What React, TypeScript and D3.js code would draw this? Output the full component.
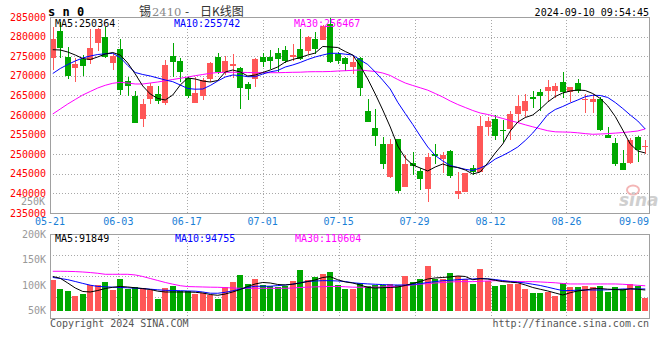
import * as d3 from 'd3'

// daily K data, sn0 (tin) 05-21 .. 09-10
const opens = [
  274630, 281430, 274800, 272080, 274290, 274030, 278450, 279900, 273350, 276750,
  268670, 264850, 258980, 264000, 265360, 263150, 275140, 273780, 269350, 263060,
  264760, 269180, 274800, 271060, 272590, 271910, 267910, 269180, 274800, 274800,
  275820, 276580, 274800, 276840, 276410, 279390, 279220, 283200, 275650, 274460,
  272330, 274460, 261110, 256680, 252690, 244270, 253880, 241720, 247760, 245720,
  241120, 250050, 248690, 250820, 239850, 240450, 246400, 245550, 257030, 258980,
  256170, 256430, 260260, 261020, 264680, 265780, 266120, 266210, 268330, 265780,
  268160, 263830, 263320, 264170, 254900, 252770, 247760, 247840, 254300, 251840,
]
const highs = [
  282450, 283640, 277350, 274630, 275310, 281940, 282110, 282450, 275650, 279300,
  269690, 266120, 264080, 268250, 267480, 273950, 278450, 274630, 269780, 269780,
  269350, 273610, 275900, 275050, 275560, 272330, 268500, 274460, 275820, 276670,
  277010, 277520, 278030, 281940, 280240, 281260, 282960, 284700, 276160, 274880,
  274970, 274800, 264080, 261530, 254470, 253880, 253880, 249800, 250480, 246570,
  250220, 252520, 250480, 251070, 245550, 245210, 247250, 259830, 259580, 260000,
  258730, 261020, 265020, 265360, 266120, 266630, 268840, 268250, 270880, 267140,
  269100, 265440, 265270, 264510, 256850, 254050, 251070, 254220, 254650, 253620,
]
const lows = [
  271480, 274630, 269100, 268500, 269950, 273100, 276330, 274460, 271390, 265100,
  264760, 258050, 257030, 262720, 262720, 262550, 269780, 268500, 264420, 263060,
  263740, 268500, 270540, 270200, 269350, 261450, 263910, 267230, 272250, 271740,
  270880, 273180, 273780, 274120, 275650, 275560, 279050, 273270, 272930, 271230,
  270540, 264850, 258300, 252180, 246230, 244010, 240190, 241720, 244700, 240950,
  237720, 247420, 245120, 244010, 238570, 240450, 244700, 245550, 254730, 253620,
  253200, 253620, 257880, 259580, 261700, 261020, 263570, 264250, 264250, 263230,
  265530, 260600, 260600, 255920, 254220, 247080, 245890, 247500, 248100, 249970,
]
const closes = [
  279390, 277180, 269950, 272930, 272590, 277180, 281940, 274880, 274970, 266460,
  267480, 258050, 262890, 267480, 263660, 272760, 273610, 271060, 264760, 265610,
  268840, 273270, 271060, 273780, 273100, 266970, 266720, 274290, 273610, 273780,
  274370, 273860, 275310, 274290, 279810, 276840, 282790, 273610, 273860, 273100,
  273610, 266800, 258300, 254730, 247420, 252600, 240700, 247500, 247080, 243670,
  249200, 249540, 249800, 244440, 240610, 245210, 245380, 257200, 258470, 254730,
  256000, 260260, 262380, 263570, 264000, 264930, 267140, 267400, 265950, 267140,
  266210, 264000, 264000, 256170, 254220, 247500, 246060, 253620, 251160, 252180,
]
const volumes = [
  110.7, 92.5, 89.1, 78.8, 82.7, 100.3, 99.7, 106.2, 91.1, 112,
  92.5, 95.8, 94.4, 91.1, 73.5, 94.4, 98.9, 89.1, 89.1, 82.7,
  84.6, 81.3, 73.5, 95.8, 106.2, 120.5, 102.3, 112.6, 100.9, 97.7,
  95.8, 98.9, 108.7, 129.6, 109.5, 115.9, 121.8, 126.3, 99.7, 92.5,
  92.5, 103.6, 98.3, 100.3, 100.3, 102.3, 99.7, 117.9, 106.8, 112,
  137.5, 112, 111.4, 124.4, 118.5, 111.4, 102.3, 131.6, 108.1, 98.3,
  100.3, 102.3, 102.3, 92.5, 85.2, 85.2, 86.6, 78.8, 103.6, 97,
  97, 98.3, 97, 98.3, 87.2, 95.8, 92.5, 102.3, 98.3, 75.4,
].map(v => v * 1000)

// moving averages as printed on the chart
const ma5 = [
  276660, 276580, 276070, 275300, 274410, 274160, 274800, 275560, 275940, 275300,
  273270, 270460, 267400, 265360, 264210, 263830, 265100, 267650, 269440, 269180,
  268670, 268420, 268800, 270970, 271480, 270970, 269950, 270200, 270840, 271480,
  272250, 273520, 274160, 274670, 275300, 275810, 277480, 277350, 277220, 276200,
  275300, 272500, 269180, 265360, 261280, 256940, 252090, 249030, 247250, 246480,
  245720, 246740, 247500, 246860, 246610, 245970, 244950, 245460, 247760, 250310,
  252600, 255920, 258210, 259360, 260000, 261530, 263320, 264720, 265610, 266120,
  266380, 266250, 265480, 264210, 262300, 259620, 256170, 252600, 250820, 250310,
]
const ma10 = [
  270590, 271860, 272880, 273780, 274540, 275050, 275430, 275610, 275740, 274670,
  272630, 270840, 270330, 269950, 269440, 268930, 268500, 267650, 266760, 266580,
  266630, 267530, 268670, 269690, 270200, 270080, 269770, 269770, 270460, 271020,
  271350, 272240, 272760, 273400, 274160, 274800, 275300, 275740, 275740, 275510,
  275300, 274030, 272880, 270970, 268880, 266630, 263240, 260380, 257580, 254640,
  251840, 249670, 248270, 247120, 246610, 246150, 245840, 246480, 247370, 248770,
  249670, 250690, 251840, 253500, 255410, 257700, 260130, 261400, 262170, 263060,
  263830, 264670, 265030, 264980, 264470, 263190, 261660, 260000, 258470, 256430,
]
const ma30 = [
  260260, 261530, 262810, 263960, 265100, 266000, 266890, 267580, 268090, 268340,
  268160, 267910, 267910, 268160, 268420, 268720, 269060, 269360, 269690, 270030,
  270330, 270640, 270840, 270890, 270890, 270890, 270840, 270790, 270790, 270790,
  270790, 270840, 270890, 270920, 271020, 271050, 271050, 271100, 271220, 271300,
  271400, 271480, 271280, 271100, 270710, 270080, 269060, 268160, 267530, 266940,
  266330, 265480, 264590, 263570, 262680, 261910, 261150, 260510, 260130, 259640,
  259110, 258570, 258060, 257500, 256990, 256480, 255990, 255710, 255660, 255610,
  255460, 255250, 255080, 255150, 255250, 255380, 255530, 255710, 255920, 256450,
]
const vma5 = [
  116.9, 113.4, 104.2, 94.4, 87.6, 86.6, 89.5, 93.4, 95.8, 97.4,
  96.4, 94.8, 93.4, 91.5, 88.2, 86.6, 86.6, 86.6, 86.6, 86.0,
  84.6, 81.7, 80.1, 82.7, 86.6, 91.5, 97.4, 102.3, 105.2, 104.2,
  101.3, 100.3, 101.9, 104.2, 107.1, 110.1, 115, 116.6, 110.5, 106.2,
  104.2, 100.3, 95.4, 94.4, 95, 95.4, 96.4, 99.3, 103.2, 107.1,
  112, 114, 115, 116, 117.9, 116.9, 110.6, 112.6, 112, 109.5,
  106.9, 105.8, 104.6, 100.3, 95.4, 91.9, 88.6, 84.6, 80.7, 85.2,
  88.6, 90.5, 92.9, 93.4, 92.1, 91.5, 90.5, 92.9, 91.9, 90.5,
].map(v => v * 1000)
const vma10 = [
  115, 113, 110.7, 107.1, 103.4, 99.9, 97.4, 96.8, 96, 95.4,
  94.8, 94, 93.2, 92.1, 90.9, 89.9, 89.5, 89.1, 88.6, 88.2,
  86.6, 84.2, 84.1, 86, 88.9, 92.5, 95.4, 97.8, 97.8, 97.9,
  99.1, 100.3, 101.9, 104.6, 107.3, 108.1, 108.7, 108.7, 108.1, 107.1,
  104.6, 103.4, 102.4, 101.7, 101.1, 100.3, 100.3, 100.3, 101.3, 103,
  105.2, 106.9, 108.7, 109.3, 110.7, 111.6, 112, 113, 112.4, 110.9,
  108.9, 107.1, 105.8, 104.2, 101.7, 99.3, 96, 92.5, 89.3, 89.5,
  90.1, 90.5, 90.5, 90.5, 90.9, 91.5, 92.5, 92.5, 92.5, 92.5,
].map(v => v * 1000)
const vma30 = [
  127.1, 127.1, 126.9, 126.5, 125.7, 124.6, 123.2, 121.2, 121.2, 121.2,
  121.2, 119.9, 116.9, 113, 109.1, 105.2, 101.9, 98.9, 97.2, 96.8,
  96.4, 96, 95.8, 95.2, 94.4, 93.8, 93.8, 93.8, 93.8, 93.8,
  93.8, 93.8, 94.4, 95.4, 96, 96.6, 97, 97.4, 97.4, 96.8,
  96, 95.8, 95.8, 96, 96.4, 97, 97.9, 99.3, 100.3, 101.9,
  103, 104.2, 105.2, 106.2, 106.8, 106.8, 106.8, 107.5, 108.1, 108.7,
  108.1, 107.5, 106.9, 106.8, 106.8, 106.2, 105.4, 104.6, 103.2, 102.3,
  102.3, 102.3, 102.3, 102.3, 102.3, 102.3, 101.7, 100.7, 99.7, 98.7,
].map(v => v * 1000)

const dateTickIdx = [0, 9, 18, 28, 38, 48, 58, 68, 78]
const dateTickLabels = ['05-21', '06-03', '06-17', '07-01', '07-15', '07-29', '08-12', '08-26', '09-09']
const volTicks = [200000, 150000, 100000, 50000]
const volTickLabels = ['200K', '150K', '100K', '50K']

const RED = '#ff5757'
const GREEN = '#00a800'
const GRID = '#a8a8a8'
const FRAME = '#a0a0a0'
const MONO = "'DejaVu Sans Mono', 'Liberation Mono', monospace"
const CJK = "'Noto Sans CJK SC', sans-serif"

export default function App() {
  const idx = d3.range(closes.length)
  const left = 50, right = 649
  const top = 17, bottom = 213
  const vTop = 234, vBottom = 318.3

  const x = d3.scaleBand<number>().domain(idx).range([49, 649]).paddingInner(0.2).paddingOuter(0.1)
  const gx = d3.scalePoint<number>().domain(idx).range([50, 650])
  const y = d3.scaleLinear().domain([235000, 285000]).range([bottom, top])
  const vy = d3.scaleLinear().domain([50000, 200000]).range([310.7, vTop])
  const bw = x.bandwidth()
  const cx = (i: number) => (x(i) ?? 0) + bw / 2

  const priceLine = d3.line<number>().x((_, i) => cx(i)).y(d => y(d))
  const volLine = d3.line<number>().x((_, i) => cx(i)).y(d => vy(d))

  const priceTicks = y.ticks(10)
  const innerGx = dateTickIdx.slice(1, -1)
  const vGrid = d3.range(1, 4).map(k => vTop + (vBottom - vTop) * k / 4)

  const up = (i: number) => closes[i] >= opens[i]

  return (
    <svg width={660} height={360} style={{ position: 'absolute', left: 0, top: 0, background: '#fff' }}
      fontFamily={MONO}>
      <rect width={660} height={360} fill="#fff" />

      {/* header */}
      <text x={48} y={16} fontSize={12} fontWeight="bold" fill="#000">s n 0</text>
      <text x={139} y={16} fontSize={12} fill="#333" fontFamily={CJK}>锡</text>
      <text x={152} y={16} fontSize={11.5} fill="#888" fontFamily="'DejaVu Serif', serif">2410</text>
      <text x={185} y={15.5} fontSize={12} fill="#333" fontFamily={CJK}>-</text>
      <text x={200} y={16} fontSize={12} fill="#333" fontFamily={CJK}>日K线图</text>
      <text x={649} y={15.5} fontSize={10} textAnchor="end" fill="#000">2024-09-10 09:54:45</text>

      {/* grid */}
      <g stroke={GRID} strokeDasharray="1 2" shapeRendering="crispEdges">
        {priceTicks.slice(1, -1).map(t => (
          <line key={t} x1={left} x2={right} y1={Math.round(y(t)) + 0.5} y2={Math.round(y(t)) + 0.5} />
        ))}
        {innerGx.map(i => (
          <line key={i} x1={Math.round(gx(i) ?? 0) + 0.5} x2={Math.round(gx(i) ?? 0) + 0.5} y1={top} y2={bottom} />
        ))}
        {vGrid.map(v => (
          <line key={v} x1={left} x2={right} y1={Math.round(v) + 0.5} y2={Math.round(v) + 0.5} />
        ))}
        {innerGx.map(i => (
          <line key={'v' + i} x1={Math.round(gx(i) ?? 0) + 0.5} x2={Math.round(gx(i) ?? 0) + 0.5} y1={vTop} y2={vBottom} />
        ))}
      </g>

      {/* sina watermark */}
      <g opacity={0.8}>
        <ellipse cx={633} cy={190} rx={6} ry={4.5} fill="none" stroke="#f2a5a5" strokeWidth={2} />
        <text x={619} y={206} fontSize={17} fontStyle="italic" fontWeight="bold" fill="#c4c4c4"
          fontFamily="'DejaVu Sans', sans-serif">sina</text>
      </g>

      {/* candles */}
      <g shapeRendering="crispEdges">
        {idx.map(i => {
          const col = up(i) ? RED : GREEN
          const yo = y(opens[i]), yc = y(closes[i])
          const wx = Math.round(cx(i)) + 0.5
          return (
            <g key={i}>
              <line x1={wx} x2={wx} y1={y(highs[i])} y2={y(lows[i])} stroke={col} />
              <rect x={x(i)} y={Math.min(yo, yc)} width={bw} height={Math.max(1, Math.abs(yo - yc))} fill={col} />
            </g>
          )
        })}
      </g>

      {/* price MAs */}
      <path d={priceLine(ma30) ?? ''} fill="none" stroke="#ff00ff" strokeWidth={1} />
      <path d={priceLine(ma10) ?? ''} fill="none" stroke="#0000ff" strokeWidth={1} />
      <path d={priceLine(ma5) ?? ''} fill="none" stroke="#000" strokeWidth={1} />

      {/* volume bars */}
      <g shapeRendering="crispEdges">
        {idx.map(i => (
          <rect key={i} x={x(i)} y={vy(volumes[i])} width={bw} height={vy(50000) - vy(volumes[i])}
            fill={up(i) ? RED : GREEN} />
        ))}
      </g>
      <path d={volLine(vma30) ?? ''} fill="none" stroke="#ff00ff" strokeWidth={1} />
      <path d={volLine(vma10) ?? ''} fill="none" stroke="#0000ff" strokeWidth={1} />
      <path d={volLine(vma5) ?? ''} fill="none" stroke="#000" strokeWidth={1} />

      {/* frames */}
      <g fill="none" stroke={FRAME} shapeRendering="crispEdges">
        <rect x={left} y={top} width={right - left} height={bottom - top} />
        <rect x={left} y={vTop} width={right - left} height={vBottom - vTop} />
      </g>

      {/* price axis labels */}
      {priceTicks.map(t => (
        <text key={t} x={46} y={y(t) + 3.5} fontSize={10} textAnchor="end" fill="#ff0000">{t}</text>
      ))}
      <text x={45} y={204.5} fontSize={10} textAnchor="end" fill="#999">250K</text>

      {/* date labels */}
      {dateTickIdx.map((d, k) => {
        const px = gx(d) ?? 0
        const last = k === dateTickIdx.length - 1
        return (
          <text key={d} x={last ? right : px} y={225} fontSize={10} fill="#1a80d6"
            textAnchor={last ? 'end' : 'middle'}>{dateTickLabels[k]}</text>
        )
      })}

      {/* legends */}
      <text x={55} y={27} fontSize={10} fill="#000">MA5:250364</text>
      <text x={174} y={27} fontSize={10} fill="#0000ff">MA10:255742</text>
      <text x={294} y={27} fontSize={10} fill="#ff00ff">MA30:256467</text>

      <text x={55} y={242} fontSize={10} fill="#000">MA5:91849</text>
      <text x={175} y={242} fontSize={10} fill="#0000ff">MA10:94755</text>
      <text x={295} y={242} fontSize={10} fill="#ff00ff">MA30:110604</text>

      {/* volume axis labels */}
      {volTicks.map((v, k) => (
        <text key={v} x={46} y={vy(v) + 3.5} fontSize={10} textAnchor="end" fill="#999">{volTickLabels[k]}</text>
      ))}

      {/* footer */}
      <text x={50} y={327} fontSize={10} fill="#555">Copyright 2024 SINA.COM</text>
      <text x={649} y={327} fontSize={10} textAnchor="end" fill="#555">http://finance.sina.com.cn</text>
    </svg>
  )
}
